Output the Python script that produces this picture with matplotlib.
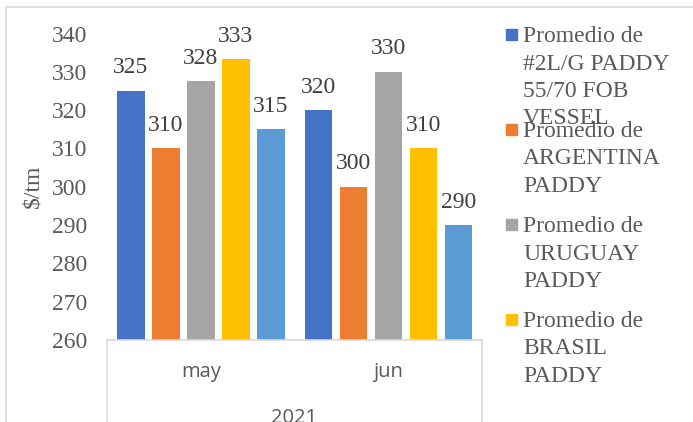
import matplotlib.pyplot as plt
from matplotlib.patches import Rectangle
import numpy as np

# datos
meses = ['may', 'jun']
anio = '2021'
series = [
    ['Promedio de', '#2L/G PADDY', '55/70 FOB', 'VESSEL'],
    ['Promedio de', 'ARGENTINA', 'PADDY'],
    ['Promedio de', 'URUGUAY', 'PADDY'],
    ['Promedio de', 'BRASIL', 'PADDY'],
    ['Promedio de', 'TAILANDIA'],
]
fob = [325, 320]
argentina = [310, 300]
uruguay = [327.5, 330]
brasil = [333.3, 310]
otro = [315, 290]
etiquetas = [['325', '320'], ['310', '300'], ['328', '330'], ['333', '310'], ['315', '290']]
colores = ['#4472C4', '#ED7D31', '#A5A5A5', '#FFC000', '#5B9BD5']

valores = [fob, argentina, uruguay, brasil, otro]

W, H = 693, 422
fig = plt.figure(figsize=(W / 100, H / 100), dpi=100)
ax = fig.add_axes([107 / W, (H - 340) / H, 375 / W, (340 - 33.5) / H])

# borde exterior
fig.patches.append(Rectangle((6 / W, -0.1), 1.2, (H - 7) / H + 0.1, transform=fig.transFigure,
                             fill=False, edgecolor='#D9D9D9', linewidth=1.2))

x = np.arange(len(meses))
paso = 35 / 187.5
ancho = 27.5 / 187.5
serif = 'Liberation Serif'
for i, (v, c) in enumerate(zip(valores, colores)):
    pos = x + (i - 2) * paso
    ax.bar(pos, np.array(v) - 260, bottom=260, width=ancho, color=c)
    for xi, yi, t in zip(pos, v, etiquetas[i]):
        ax.annotate(t, (xi, yi), xytext=(0, 9), textcoords='offset points', ha='center', va='bottom',
                    fontsize=17, family=serif, color='#404040')

ax.set_ylim(260, 340)
ax.set_xlim(-0.5, 1.5)
ax.set_yticks(range(260, 341, 10))
ax.tick_params(axis='y', length=0, labelsize=17, labelcolor='#595959', pad=14)
for lab in ax.get_yticklabels():
    lab.set_family(serif)
ax.set_xticks([])
for s in ['top', 'right', 'left']:
    ax.spines[s].set_visible(False)
ax.spines['bottom'].set_color('#D9D9D9')
ax.spines['bottom'].set_linewidth(1.2)
ax.set_ylabel('$/tm', fontsize=17, family=serif, color='#595959', labelpad=6)

# eje de categorias
tr = ax.get_xaxis_transform()
for xv in [-0.5, 1.5]:
    ax.plot([xv, xv], [0, -0.4], transform=tr, color='#D9D9D9', lw=1.2, clip_on=False)
for xi, m in zip(x, meses):
    ax.text(xi, -0.105, m, transform=tr, ha='center', va='center', fontsize=14.5,
            family='Open Sans', color='#595959')
ax.text(0.5, -0.255, anio, transform=tr, ha='center', va='center', fontsize=14.5,
        family='Open Sans', color='#595959')

# leyenda
for i in range(4):
    yb = 42 + 95 * i
    fig.patches.append(Rectangle((506 / W, 1 - (yb - 2) / H), 11 / W, 11 / H,
                                 transform=fig.transFigure, color=colores[i]))
    for j, linea in enumerate(series[i]):
        fig.text(523 / W, 1 - (yb + 27.5 * j) / H, linea, ha='left', va='baseline', fontsize=17,
                 family=serif, color='#595959')

fig.savefig('out.png', dpi=100)
